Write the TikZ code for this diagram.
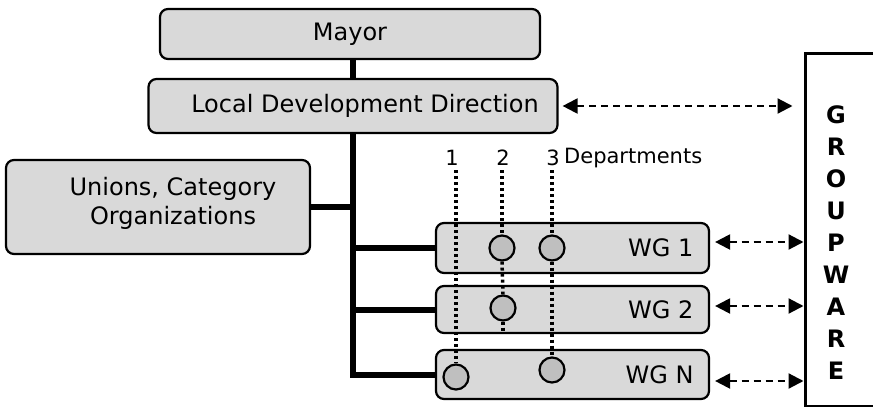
\documentclass[tikz,border=0pt]{standalone}
\usepackage{fontspec}
\setmainfont{DejaVu Sans}
\usetikzlibrary{arrows.meta}
\definecolor{boxgray}{HTML}{D9D9D9}
\definecolor{circgray}{HTML}{BFBFBF}
\tikzset{
  orgbox/.style={draw=black, line width=2.2pt, fill=boxgray, rounded corners=8pt, inner sep=0pt},
  dept/.style={draw=black, line width=2.2pt, fill=circgray, circle, minimum size=25pt, inner sep=0pt},
  trunk/.style={line width=6pt},
  dotline/.style={line width=3.5pt, dash pattern=on 3pt off 3pt},
  darr/.style={line width=2.2pt, dash pattern=on 7pt off 5pt, {Triangle[length=15pt,width=15pt]}-{Triangle[length=15pt,width=15pt]}},
  big/.style={font=\fontsize{24}{29}\selectfont},
  small/.style={font=\fontsize{21}{25}\selectfont},
  gwtext/.style={font=\fontsize{24}{32.1}\selectfont\bfseries, align=center, inner sep=0pt},
}
\begin{document}
\begin{tikzpicture}[x=1pt,y=-1pt]
\useasboundingbox (0,0) rectangle (873,407);
\clip (0,0) rectangle (873,407);
% boxes
\node[orgbox, minimum width=380pt, minimum height=50pt, big] (mayor) at (350,34) {Mayor};
\node[orgbox, minimum width=409pt, minimum height=54pt] (ldd) at (353,106) {};
\node[big, anchor=center] (lddt) at (365,106) {Local Development Direction};
\node[orgbox, minimum width=304pt, minimum height=94pt] (unions) at (158,207) {};
\node[big, align=center] (unionst) at (173,203) {Unions, Category\\Organizations};
\node[orgbox, minimum width=273pt, minimum height=50pt] (wg1) at (572.5,248) {};
\node[orgbox, minimum width=273pt, minimum height=47pt] (wg2) at (572.5,309.5) {};
\node[orgbox, minimum width=273pt, minimum height=49pt] (wgn) at (572.5,374.5) {};
\node[big, anchor=east] (wg1t) at (697,248) {WG 1};
\node[big, anchor=east] (wg2t) at (697,309.5) {WG 2};
\node[big, anchor=east] (wgnt) at (697,374.5) {WG N};
% groupware
\node[draw=black, line width=3pt, minimum width=90pt, minimum height=353pt, inner sep=0pt] (gw) at (850,229.5) {};
\node[gwtext] (gwt) at (836,242.5) {G\\R\\O\\U\\P\\W\\A\\R\\E};
% trunk
\draw[trunk] (mayor.south -| ldd.north) -- (ldd.north);
\draw[trunk] (ldd.south) -- (ldd.south |- wgn.west) -- (wgn.west);
\draw[trunk] (ldd.south |- wg1.west) -- (wg1.west);
\draw[trunk] (ldd.south |- wg2.west) -- (wg2.west);
\draw[trunk] (unions.east) -- (unions.east -| ldd.south);
% department labels
\node[small] (n1) at (452,158) {1};
\node[small] (n2) at (503,158) {2};
\node[small] (n3) at (553,158) {3};
\node[small, anchor=west, inner sep=0pt] (deps) at (564,158) {Departments};
% circles
\node[dept] (c12) at (502,248) {};
\node[dept] (c13) at (552,248) {};
\node[dept] (c22) at (503,308) {};
\node[dept] (cn1) at (456,377) {};
\node[dept] (cn3) at (552,370) {};
\coordinate (t1) at (456,170);
\coordinate (t2) at (502,170);
\coordinate (t3) at (552,170);
\coordinate (b2) at (503,333);
% dotted lines
\draw[dotline] (t1) -- (cn1.north);
\draw[dotline] (t2) -- (c12.north);
\draw[dotline] (c12.south) -- (c22.north);
\draw[dotline] (c22.south) -- (b2);
\draw[dotline] (t3) -- (c13.north);
\draw[dotline] (c13.south) -- (cn3.north);
% arrows
\draw[darr] ([xshift=4pt]ldd.east) -- ([xshift=-11pt]ldd.east -| gw.west);
\draw[darr] ([xshift=5pt,yshift=6pt]wg1.east) -- ([yshift=6pt]wg1.east -| gw.west);
\draw[darr] ([xshift=5pt,yshift=3.5pt]wg2.east) -- ([yshift=3.5pt]wg2.east -| gw.west);
\draw[darr] ([xshift=5pt,yshift=-6.5pt]wgn.east) -- ([yshift=-6.5pt]wgn.east -| gw.west);
\end{tikzpicture}
\end{document}
